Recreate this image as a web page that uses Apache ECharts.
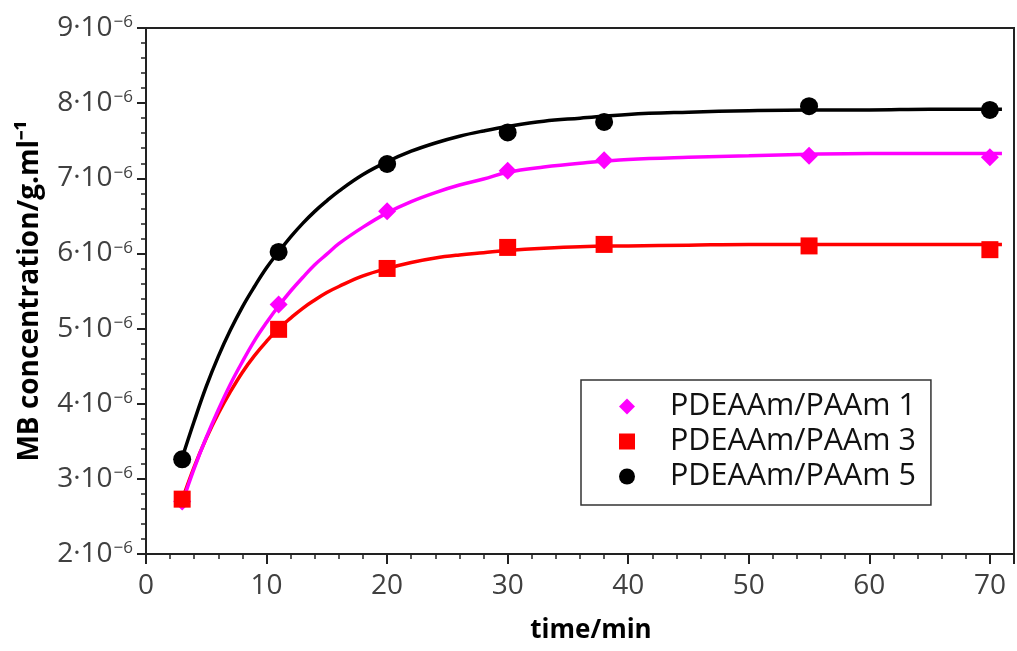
<!DOCTYPE html>
<html>
<head>
<meta charset="utf-8">
<script src="https://cdn.jsdelivr.net/npm/echarts@6/dist/echarts.min.js"></script>
<style>
  html, body { margin: 0; padding: 0; background: #fff; }
  #chart { width: 1017px; height: 651px; }
</style>
</head>
<body>
<div id="chart"></div>
<script>
// Measured points (concentration in units of 1e-6 g/ml)
const timePts = [3, 11, 20, 30, 38, 55, 70];
const pdeaam1 = [2.70, 5.32, 6.56, 7.10, 7.24, 7.30, 7.28];
const pdeaam3 = [2.73, 4.99, 5.80, 6.08, 6.12, 6.10, 6.05];
const pdeaam5 = [3.26, 6.02, 7.19, 7.61, 7.75, 7.96, 7.91];

// Fitted curves
const fitX = [3, 4, 5, 6, 7, 8, 9, 10, 11, 12, 13, 14, 15, 16, 18, 20, 22, 24, 26, 28, 30, 33, 36, 40, 45, 50, 55, 60, 65, 71];
const fit1 = [2.68, 3.14, 3.55, 3.92, 4.26, 4.56, 4.84, 5.08, 5.30, 5.50, 5.68, 5.85, 5.99, 6.13, 6.35, 6.54, 6.69, 6.81, 6.91, 6.99, 7.08, 7.15, 7.20, 7.25, 7.28, 7.30, 7.32, 7.33, 7.33, 7.33];
const fit3 = [2.72, 3.16, 3.54, 3.87, 4.16, 4.42, 4.64, 4.83, 5.00, 5.14, 5.27, 5.38, 5.48, 5.56, 5.70, 5.80, 5.88, 5.94, 5.98, 6.01, 6.04, 6.07, 6.09, 6.10, 6.11, 6.12, 6.12, 6.12, 6.12, 6.12];
const fit5 = [3.28, 3.77, 4.23, 4.63, 4.98, 5.29, 5.56, 5.81, 6.02, 6.22, 6.40, 6.56, 6.70, 6.83, 7.05, 7.22, 7.36, 7.47, 7.56, 7.63, 7.69, 7.76, 7.80, 7.85, 7.88, 7.90, 7.91, 7.91, 7.92, 7.92];

const seriesNames = ['PDEAAm/PAAm 1', 'PDEAAm/PAAm 3', 'PDEAAm/PAAm 5'];
const xTitle = 'time/min';
const yTitle = 'MB concentration/g.ml\u207B\u00B9';

const zip = (xs, ys) => xs.map((x, i) => [x, ys[i]]);

const FONT = 'Open Sans';
const axisColor = '#222';
const labelColor = '#404040';

const chart = echarts.init(document.getElementById('chart'), null, { renderer: 'canvas' });

chart.setOption({
  animation: false,
  backgroundColor: '#fff',
  grid: { left: 146, top: 28, width: 874, height: 526, show: true, borderColor: axisColor, borderWidth: 2, backgroundColor: 'transparent' },
  legend: {
    data: seriesNames,
    orient: 'vertical',
    left: 581,
    top: 380,
    itemWidth: 16,
    itemHeight: 16,
    itemGap: 4,
    padding: [11, 15, 13, 38],
    borderColor: '#333',
    borderWidth: 1.5,
    backgroundColor: '#fff',
    textStyle: { fontFamily: FONT, fontSize: 30.5, color: '#111', padding: [0, 0, 0, 30] }
  },
  xAxis: [
    {
      type: 'value', min: 0, max: 72, interval: 10,
      position: 'bottom',
      name: xTitle, nameLocation: 'middle', nameGap: 64,
      nameTextStyle: { fontFamily: FONT, fontSize: 26, fontWeight: 'bold', color: '#000', padding: [0, 0, 0, 22] },
      axisLine: { show: true, lineStyle: { color: axisColor, width: 2 } },
      axisTick: { show: true, inside: false, length: 10, lineStyle: { color: axisColor, width: 2 } },
      axisLabel: { fontFamily: FONT, fontSize: 28, color: labelColor, margin: 18,
        formatter: v => (v % 10 === 0 ? String(v) : '') },
      splitLine: { show: false }
    },
    {
      type: 'value', min: 0, max: 72, interval: 2,
      position: 'bottom',
      axisLine: { show: false },
      axisTick: { show: true, inside: false, length: 5, lineStyle: { color: axisColor, width: 1.5 } },
      axisLabel: { show: false },
      splitLine: { show: false }
    }
  ],
  yAxis: {
    type: 'value', min: 2, max: 9, interval: 1,
    name: yTitle, nameLocation: 'middle', nameGap: 102,
    nameTextStyle: { fontFamily: FONT, fontSize: 28, fontWeight: 'bold', color: '#000' },
    axisLine: { show: true, lineStyle: { color: axisColor, width: 2 } },
    axisTick: { show: true, inside: false, length: 9, lineStyle: { color: axisColor, width: 2 } },
    minorTick: { show: true, splitNumber: 5, length: 5, lineStyle: { color: axisColor, width: 1.5 } },
    axisLabel: {
      margin: 13,
      formatter: v => '{b|' + v + '\u00B710}{s|\u22126}',
      rich: {
        b: { fontFamily: FONT, fontSize: 28, color: labelColor },
        s: { fontFamily: FONT, fontSize: 17, color: labelColor, verticalAlign: 'top', padding: [0, 0, 10, 1] }
      }
    },
    splitLine: { show: false }
  },
  series: [
    { type: 'line', name: 'fit3', data: zip(fitX, fit3), smooth: 0.4, showSymbol: false, lineStyle: { color: '#ff0000', width: 3.5 }, z: 2, silent: true },
    { type: 'line', name: 'fit1', data: zip(fitX, fit1), smooth: 0.4, showSymbol: false, lineStyle: { color: '#ff00ff', width: 3.5 }, z: 2, silent: true },
    { type: 'line', name: 'fit5', data: zip(fitX, fit5), smooth: 0.4, showSymbol: false, lineStyle: { color: '#000000', width: 3.5 }, z: 2, silent: true },
    { type: 'scatter', name: seriesNames[0], data: zip(timePts, pdeaam1), symbol: 'diamond', symbolSize: 18, itemStyle: { color: '#ff00ff', opacity: 1 }, z: 3 },
    { type: 'scatter', name: seriesNames[1], data: zip(timePts, pdeaam3), symbol: 'rect', symbolSize: 17, itemStyle: { color: '#ff0000', opacity: 1 }, z: 3 },
    { type: 'scatter', name: seriesNames[2], data: zip(timePts, pdeaam5), symbol: 'circle', symbolSize: 18, itemStyle: { color: '#000000', opacity: 1 }, z: 3 }
  ]
});
</script>
</body>
</html>
